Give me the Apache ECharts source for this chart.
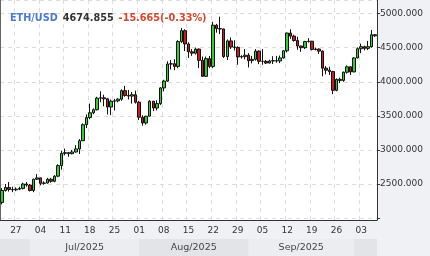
<!DOCTYPE html>
<html><head><meta charset="utf-8">
<script src="https://cdn.jsdelivr.net/npm/echarts@6/dist/echarts.min.js"></script>
<style>html,body{margin:0;padding:0;background:#f0f1f4}#c{width:430px;height:256px}</style>
</head><body><div id="c"></div>
<script>
const dates = [
'2025-06-23','2025-06-24','2025-06-25','2025-06-26','2025-06-27','2025-06-28','2025-06-29','2025-06-30',
'2025-07-01','2025-07-02','2025-07-03','2025-07-04','2025-07-05','2025-07-06','2025-07-07','2025-07-08','2025-07-09','2025-07-10',
'2025-07-11','2025-07-12','2025-07-13','2025-07-14','2025-07-15','2025-07-16','2025-07-17','2025-07-18','2025-07-19','2025-07-20',
'2025-07-21','2025-07-22','2025-07-23','2025-07-24','2025-07-25','2025-07-26','2025-07-27','2025-07-28','2025-07-29','2025-07-30','2025-07-31',
'2025-08-01','2025-08-02','2025-08-03','2025-08-04','2025-08-05','2025-08-06','2025-08-07','2025-08-08','2025-08-09','2025-08-10',
'2025-08-11','2025-08-12','2025-08-13','2025-08-14','2025-08-15','2025-08-16','2025-08-17','2025-08-18','2025-08-19','2025-08-20',
'2025-08-21','2025-08-22','2025-08-23','2025-08-24','2025-08-25','2025-08-26','2025-08-27','2025-08-28','2025-08-29','2025-08-30','2025-08-31',
'2025-09-01','2025-09-02','2025-09-03','2025-09-04','2025-09-05','2025-09-06','2025-09-07','2025-09-08','2025-09-09','2025-09-10',
'2025-09-11','2025-09-12','2025-09-13','2025-09-14','2025-09-15','2025-09-16','2025-09-17','2025-09-18','2025-09-19','2025-09-20',
'2025-09-21','2025-09-22','2025-09-23','2025-09-24','2025-09-25','2025-09-26','2025-09-27','2025-09-28','2025-09-29','2025-09-30',
'2025-10-01','2025-10-02','2025-10-03','2025-10-04','2025-10-05','2025-10-06','2025-10-07'
];
const openP = [
2230,2405,2450,2420,2415,2425,2435,2500,
2485,2405,2570,2590,2510,2515,2570,2540,2615,2770,
2950,2960,2945,2970,3015,3135,3370,3475,3545,3590,
3760,3765,3750,3630,3715,3720,3745,3870,3800,3790,3810,
3700,3480,3395,3495,3715,3615,3680,3910,4010,4260,
4265,4225,4590,4750,4555,4440,4420,4480,4315,4080,
4340,4225,4830,4780,4775,4370,4600,4510,4505,4365,4370,
4390,4310,4330,4450,4300,4300,4275,4305,4310,4305,
4350,4455,4715,4670,4605,4525,4500,4590,4595,4475,
4480,4450,4200,4170,4150,3875,4035,4020,4140,4220,
4145,4350,4485,4515,4490,4515,4690
];
const closeP = [
2405,2450,2420,2415,2425,2435,2500,2485,
2405,2570,2590,2510,2515,2570,2540,2615,2770,2950,
2960,2945,2970,3015,3135,3370,3475,3545,3590,3760,
3765,3750,3630,3715,3720,3745,3870,3800,3790,3810,3700,
3480,3395,3495,3715,3615,3680,3910,4010,4260,4265,
4225,4590,4750,4555,4440,4420,4480,4315,4080,4340,
4225,4830,4780,4775,4370,4600,4510,4505,4365,4370,4390,
4310,4330,4450,4300,4300,4275,4305,4310,4305,4350,
4455,4715,4670,4605,4525,4500,4590,4595,4475,4480,
4450,4200,4170,4150,3875,4035,4020,4140,4220,4145,
4350,4485,4515,4490,4515,4690,4674.855
];
const lowP = [
2200,2390,2390,2380,2395,2410,2420,2460,
2390,2380,2560,2480,2490,2505,2520,2525,2600,2710,
2920,2900,2935,2960,2940,3130,3320,3450,3525,3580,
3700,3640,3520,3510,3580,3700,3720,3780,3740,3680,3680,
3440,3355,3370,3490,3570,3580,3660,3860,4000,4180,
4170,4200,4570,4450,4350,4380,4400,4200,4070,4070,
4200,4200,4720,4700,4350,4320,4480,4460,4250,4340,4330,
4210,4270,4310,4260,4250,4260,4270,4260,4280,4275,
4340,4430,4630,4590,4470,4440,4480,4575,4460,4460,
4410,4080,4110,4100,3820,3860,3980,4000,4120,4100,
4140,4345,4420,4460,4465,4500,4660
];
const highP = [
2440,2500,2530,2460,2450,2460,2520,2530,
2500,2580,2645,2595,2540,2590,2590,2630,2790,2990,
3020,2970,3000,3070,3160,3390,3520,3680,3610,3780,
3860,3810,3760,3740,3750,3760,3890,3940,3880,3850,3870,
3720,3510,3500,3730,3720,3730,3920,4030,4300,4320,
4330,4610,4790,4770,4580,4480,4500,4490,4370,4370,
4380,4880,4850,4955,4780,4620,4650,4610,4520,4390,4480,
4420,4380,4480,4460,4480,4320,4325,4375,4380,4385,
4460,4720,4770,4690,4660,4530,4600,4640,4600,4500,
4490,4460,4230,4220,4160,4050,4060,4150,4240,4230,
4360,4505,4560,4530,4600,4760,4700
];
const symbolName = 'ETH/USD';
const lastPrice = 4674.855;
const change = '-15.665(-0.33%)';
const monthNames = ['', 'Jul/2025', 'Aug/2025', 'Sep/2025', ''];
const monthStarts = ['2025-06-23', '2025-07-01', '2025-08-01', '2025-09-01', '2025-10-01', '2025-10-07'];

const FONT = 'DejaVu Sans';
const Y_MIN = 1972, Y_MAX = 5200;
const isFri = v => new Date(v + 'T00:00:00Z').getUTCDay() === 5;
const candles = dates.map((d, i) => [openP[i], closeP[i], lowP[i], highP[i]]);

const bands = monthNames.map((name, m) => [
  { name: name, xAxis: monthStarts[m], itemStyle: { color: m % 2 === 0 ? '#e2e4e8' : '#ebedf0' } },
  { xAxis: monthStarts[m + 1] }
]);

const chart = echarts.init(document.getElementById('c'), null, { renderer: 'canvas' });
chart.setOption({
  backgroundColor: '#f0f1f4',
  animation: false,
  title: {
    left: 5, top: 4,
    text: '{a|' + symbolName + '} {b|' + lastPrice.toFixed(3) + '} {c|' + change + '}',
    textStyle: {
      rich: {
        a: { color: '#4a7bd4', fontSize: 9.7, fontWeight: 'bold', fontFamily: FONT },
        b: { color: '#333', fontSize: 9.7, fontWeight: 'bold', fontFamily: FONT },
        c: { color: '#d5462b', fontSize: 9.7, fontWeight: 'bold', fontFamily: FONT }
      }
    }
  },
  grid: [
    { left: 0, right: 53, top: 0, bottom: 36, show: true, backgroundColor: '#fff', borderWidth: 0 },
    { left: 0, right: 53, top: 239, bottom: 0, show: true, backgroundColor: '#e2e4e8', borderWidth: 0 }
  ],
  xAxis: [
    {
      type: 'category', data: dates, gridIndex: 0, boundaryGap: true,
      axisLine: { onZero: false, lineStyle: { color: '#333' } },
      axisTick: { show: false },
      axisLabel: { interval: (i, v) => isFri(v), formatter: v => v.slice(8), fontSize: 9, color: '#333', fontFamily: FONT, margin: 6 },
      splitLine: { show: true, interval: (i, v) => isFri(v), lineStyle: { type: [4, 4], color: '#dcdcdc' } }
    },
    { type: 'category', data: dates, gridIndex: 1, show: false, boundaryGap: true }
  ],
  yAxis: [
    {
      type: 'value', gridIndex: 0, position: 'right', min: Y_MIN, max: Y_MAX, minInterval: 500, maxInterval: 500,
      axisLine: { show: true, lineStyle: { color: '#333' } },
      axisTick: { show: true, length: 3, lineStyle: { color: '#333' } },
      axisLabel: { showMinLabel: false, showMaxLabel: false, formatter: v => (v % 500 === 0 && v >= 2500 ? v.toFixed(3) : ''), fontSize: 9, color: '#333', fontFamily: FONT, margin: 3 },
      splitLine: { show: true, lineStyle: { type: [4, 4], color: '#dcdcdc' } }
    },
    {
      type: 'value', gridIndex: 0, position: 'left', min: Y_MIN, max: Y_MAX,
      axisLine: { show: true, lineStyle: { color: '#666' } },
      axisLabel: { show: false }, axisTick: { show: false }, splitLine: { show: false }
    },
    { type: 'value', gridIndex: 1, show: false, min: 0, max: 1 }
  ],
  series: [
    {
      type: 'candlestick', xAxisIndex: 0, yAxisIndex: 0, data: candles, barWidth: 3,
      itemStyle: { color: '#2fcf2f', color0: '#cc1a1a', borderColor: '#111', borderColor0: '#111', borderWidth: 1 },
      markLine: {
        silent: true, symbol: ['none', 'none'],
        lineStyle: { opacity: 0 },
        data: [{ yAxis: lastPrice }],
        label: {
          position: 'end', distance: 1,
          formatter: '{arr|◀}{num|' + lastPrice.toFixed(3) + '}',
          rich: {
            arr: { color: '#111', fontSize: 8, fontFamily: FONT },
            num: { color: '#fff', backgroundColor: '#111', fontSize: 9, fontWeight: 'bold', fontFamily: FONT, padding: [1, 1, 1, 1] }
          }
        }
      }
    },
    {
      type: 'line', xAxisIndex: 1, yAxisIndex: 2, data: [], silent: true,
      markArea: {
        silent: true,
        label: { show: true, position: 'inside', color: '#444', fontSize: 9.5, fontFamily: FONT },
        data: bands
      }
    }
  ]
});
</script></body></html>
